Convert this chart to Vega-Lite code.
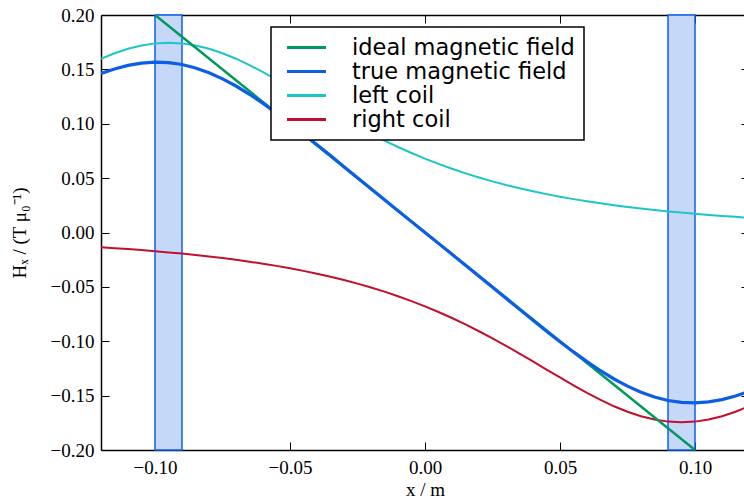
{
  "$schema": "https://vega.github.io/schema/vega-lite/v6.json",
  "width": 648,
  "height": 435,
  "autosize": {"type": "none"},
  "padding": {"left": 101, "top": 15, "right": 0, "bottom": 49},
  "config": {
    "view": {"stroke": null},
    "axis": {
      "grid": false,
      "domainColor": "black",
      "domainWidth": 1.5,
      "tickColor": "black",
      "tickWidth": 1,
      "tickSize": -8,
      "labelFont": "Liberation Serif",
      "labelFontSize": 19,
      "labelColor": "black",
      "titleFont": "Liberation Serif",
      "titleFontSize": 19,
      "titleFontWeight": "normal",
      "titleColor": "black"
    },
    "legend": {
      "orient": "none",
      "legendX": 170,
      "legendY": 12,
      "strokeColor": "black",
      "strokeWidth": 1.5,
      "fillColor": "white",
      "padding": 9,
      "symbolType": "M-2,0H2",
      "symbolSize": 380,
      "symbolStrokeWidth": 3,
      "symbolOffset": 15,
      "labelFont": "DejaVu Sans",
      "labelFontSize": 22.5,
      "labelColor": "black",
      "labelOffset": 34,
      "labelLimit": 400,
      "rowPadding": 1
    }
  },
  "datasets": {
    "bands": [{"x0": -0.1, "x1": -0.09}, {"x0": 0.09, "x1": 0.1}],
    "curves": [
      {"series": "right coil", "x": -0.120, "H": -0.0136},
      {"series": "right coil", "x": -0.115, "H": -0.0144},
      {"series": "right coil", "x": -0.110, "H": -0.0152},
      {"series": "right coil", "x": -0.105, "H": -0.0162},
      {"series": "right coil", "x": -0.100, "H": -0.0172},
      {"series": "right coil", "x": -0.095, "H": -0.0183},
      {"series": "right coil", "x": -0.090, "H": -0.0194},
      {"series": "right coil", "x": -0.085, "H": -0.0207},
      {"series": "right coil", "x": -0.080, "H": -0.0220},
      {"series": "right coil", "x": -0.075, "H": -0.0235},
      {"series": "right coil", "x": -0.070, "H": -0.0251},
      {"series": "right coil", "x": -0.065, "H": -0.0268},
      {"series": "right coil", "x": -0.060, "H": -0.0287},
      {"series": "right coil", "x": -0.055, "H": -0.0307},
      {"series": "right coil", "x": -0.050, "H": -0.0329},
      {"series": "right coil", "x": -0.045, "H": -0.0353},
      {"series": "right coil", "x": -0.040, "H": -0.0379},
      {"series": "right coil", "x": -0.035, "H": -0.0407},
      {"series": "right coil", "x": -0.030, "H": -0.0437},
      {"series": "right coil", "x": -0.025, "H": -0.0470},
      {"series": "right coil", "x": -0.020, "H": -0.0506},
      {"series": "right coil", "x": -0.015, "H": -0.0544},
      {"series": "right coil", "x": -0.010, "H": -0.0586},
      {"series": "right coil", "x": -0.005, "H": -0.0631},
      {"series": "right coil", "x": 0.000, "H": -0.0679},
      {"series": "right coil", "x": 0.005, "H": -0.0731},
      {"series": "right coil", "x": 0.010, "H": -0.0786},
      {"series": "right coil", "x": 0.015, "H": -0.0845},
      {"series": "right coil", "x": 0.020, "H": -0.0908},
      {"series": "right coil", "x": 0.025, "H": -0.0974},
      {"series": "right coil", "x": 0.030, "H": -0.1042},
      {"series": "right coil", "x": 0.035, "H": -0.1113},
      {"series": "right coil", "x": 0.040, "H": -0.1186},
      {"series": "right coil", "x": 0.045, "H": -0.1260},
      {"series": "right coil", "x": 0.050, "H": -0.1333},
      {"series": "right coil", "x": 0.055, "H": -0.1405},
      {"series": "right coil", "x": 0.060, "H": -0.1474},
      {"series": "right coil", "x": 0.065, "H": -0.1539},
      {"series": "right coil", "x": 0.070, "H": -0.1598},
      {"series": "right coil", "x": 0.075, "H": -0.1648},
      {"series": "right coil", "x": 0.080, "H": -0.1689},
      {"series": "right coil", "x": 0.085, "H": -0.1720},
      {"series": "right coil", "x": 0.090, "H": -0.1739},
      {"series": "right coil", "x": 0.095, "H": -0.1745},
      {"series": "right coil", "x": 0.100, "H": -0.1739},
      {"series": "right coil", "x": 0.105, "H": -0.1720},
      {"series": "right coil", "x": 0.110, "H": -0.1689},
      {"series": "right coil", "x": 0.115, "H": -0.1648},
      {"series": "right coil", "x": 0.120, "H": -0.1598},
      {"series": "left coil", "x": -0.120, "H": 0.1598},
      {"series": "left coil", "x": -0.115, "H": 0.1648},
      {"series": "left coil", "x": -0.110, "H": 0.1689},
      {"series": "left coil", "x": -0.105, "H": 0.1720},
      {"series": "left coil", "x": -0.100, "H": 0.1739},
      {"series": "left coil", "x": -0.095, "H": 0.1745},
      {"series": "left coil", "x": -0.090, "H": 0.1739},
      {"series": "left coil", "x": -0.085, "H": 0.1720},
      {"series": "left coil", "x": -0.080, "H": 0.1689},
      {"series": "left coil", "x": -0.075, "H": 0.1648},
      {"series": "left coil", "x": -0.070, "H": 0.1598},
      {"series": "left coil", "x": -0.065, "H": 0.1539},
      {"series": "left coil", "x": -0.060, "H": 0.1474},
      {"series": "left coil", "x": -0.055, "H": 0.1405},
      {"series": "left coil", "x": -0.050, "H": 0.1333},
      {"series": "left coil", "x": -0.045, "H": 0.1260},
      {"series": "left coil", "x": -0.040, "H": 0.1186},
      {"series": "left coil", "x": -0.035, "H": 0.1113},
      {"series": "left coil", "x": -0.030, "H": 0.1042},
      {"series": "left coil", "x": -0.025, "H": 0.0974},
      {"series": "left coil", "x": -0.020, "H": 0.0908},
      {"series": "left coil", "x": -0.015, "H": 0.0845},
      {"series": "left coil", "x": -0.010, "H": 0.0786},
      {"series": "left coil", "x": -0.005, "H": 0.0731},
      {"series": "left coil", "x": 0.000, "H": 0.0679},
      {"series": "left coil", "x": 0.005, "H": 0.0631},
      {"series": "left coil", "x": 0.010, "H": 0.0586},
      {"series": "left coil", "x": 0.015, "H": 0.0544},
      {"series": "left coil", "x": 0.020, "H": 0.0506},
      {"series": "left coil", "x": 0.025, "H": 0.0470},
      {"series": "left coil", "x": 0.030, "H": 0.0437},
      {"series": "left coil", "x": 0.035, "H": 0.0407},
      {"series": "left coil", "x": 0.040, "H": 0.0379},
      {"series": "left coil", "x": 0.045, "H": 0.0353},
      {"series": "left coil", "x": 0.050, "H": 0.0329},
      {"series": "left coil", "x": 0.055, "H": 0.0307},
      {"series": "left coil", "x": 0.060, "H": 0.0287},
      {"series": "left coil", "x": 0.065, "H": 0.0268},
      {"series": "left coil", "x": 0.070, "H": 0.0251},
      {"series": "left coil", "x": 0.075, "H": 0.0235},
      {"series": "left coil", "x": 0.080, "H": 0.0220},
      {"series": "left coil", "x": 0.085, "H": 0.0207},
      {"series": "left coil", "x": 0.090, "H": 0.0194},
      {"series": "left coil", "x": 0.095, "H": 0.0183},
      {"series": "left coil", "x": 0.100, "H": 0.0172},
      {"series": "left coil", "x": 0.105, "H": 0.0162},
      {"series": "left coil", "x": 0.110, "H": 0.0152},
      {"series": "left coil", "x": 0.115, "H": 0.0144},
      {"series": "left coil", "x": 0.120, "H": 0.0136},
      {"series": "ideal magnetic field", "x": -0.100, "H": 0.2},
      {"series": "ideal magnetic field", "x": 0.000, "H": 0.0},
      {"series": "ideal magnetic field", "x": 0.100, "H": -0.2},
      {"series": "true magnetic field", "x": -0.120, "H": 0.1462},
      {"series": "true magnetic field", "x": -0.115, "H": 0.1504},
      {"series": "true magnetic field", "x": -0.110, "H": 0.1537},
      {"series": "true magnetic field", "x": -0.105, "H": 0.1558},
      {"series": "true magnetic field", "x": -0.100, "H": 0.1567},
      {"series": "true magnetic field", "x": -0.095, "H": 0.1562},
      {"series": "true magnetic field", "x": -0.090, "H": 0.1545},
      {"series": "true magnetic field", "x": -0.085, "H": 0.1513},
      {"series": "true magnetic field", "x": -0.080, "H": 0.1469},
      {"series": "true magnetic field", "x": -0.075, "H": 0.1413},
      {"series": "true magnetic field", "x": -0.070, "H": 0.1347},
      {"series": "true magnetic field", "x": -0.065, "H": 0.1271},
      {"series": "true magnetic field", "x": -0.060, "H": 0.1187},
      {"series": "true magnetic field", "x": -0.055, "H": 0.1098},
      {"series": "true magnetic field", "x": -0.050, "H": 0.1004},
      {"series": "true magnetic field", "x": -0.045, "H": 0.0907},
      {"series": "true magnetic field", "x": -0.040, "H": 0.0807},
      {"series": "true magnetic field", "x": -0.035, "H": 0.0707},
      {"series": "true magnetic field", "x": -0.030, "H": 0.0605},
      {"series": "true magnetic field", "x": -0.025, "H": 0.0504},
      {"series": "true magnetic field", "x": -0.020, "H": 0.0402},
      {"series": "true magnetic field", "x": -0.015, "H": 0.0301},
      {"series": "true magnetic field", "x": -0.010, "H": 0.0201},
      {"series": "true magnetic field", "x": -0.005, "H": 0.0100},
      {"series": "true magnetic field", "x": 0.000, "H": 0.0},
      {"series": "true magnetic field", "x": 0.005, "H": -0.0100},
      {"series": "true magnetic field", "x": 0.010, "H": -0.0201},
      {"series": "true magnetic field", "x": 0.015, "H": -0.0301},
      {"series": "true magnetic field", "x": 0.020, "H": -0.0402},
      {"series": "true magnetic field", "x": 0.025, "H": -0.0504},
      {"series": "true magnetic field", "x": 0.030, "H": -0.0605},
      {"series": "true magnetic field", "x": 0.035, "H": -0.0707},
      {"series": "true magnetic field", "x": 0.040, "H": -0.0807},
      {"series": "true magnetic field", "x": 0.045, "H": -0.0907},
      {"series": "true magnetic field", "x": 0.050, "H": -0.1004},
      {"series": "true magnetic field", "x": 0.055, "H": -0.1098},
      {"series": "true magnetic field", "x": 0.060, "H": -0.1187},
      {"series": "true magnetic field", "x": 0.065, "H": -0.1271},
      {"series": "true magnetic field", "x": 0.070, "H": -0.1347},
      {"series": "true magnetic field", "x": 0.075, "H": -0.1413},
      {"series": "true magnetic field", "x": 0.080, "H": -0.1469},
      {"series": "true magnetic field", "x": 0.085, "H": -0.1513},
      {"series": "true magnetic field", "x": 0.090, "H": -0.1545},
      {"series": "true magnetic field", "x": 0.095, "H": -0.1562},
      {"series": "true magnetic field", "x": 0.100, "H": -0.1567},
      {"series": "true magnetic field", "x": 0.105, "H": -0.1558},
      {"series": "true magnetic field", "x": 0.110, "H": -0.1537},
      {"series": "true magnetic field", "x": 0.115, "H": -0.1504},
      {"series": "true magnetic field", "x": 0.120, "H": -0.1462}
    ]
  },
  "layer": [
    {
      "data": {"name": "bands"},
      "mark": {"type": "rect", "fill": "#c6d8f8", "stroke": "#0f5cf5", "strokeWidth": 1.5},
      "encoding": {
        "x": {"field": "x0", "type": "quantitative", "scale": {"domain": [-0.12, 0.12], "nice": false, "zero": false}, "axis": null},
        "x2": {"field": "x1"}
      }
    },
    {
      "data": {"name": "curves"},
      "transform": [{"filter": "datum.series === 'right coil'"}],
      "mark": {"type": "line", "clip": true, "strokeWidth": 2},
      "encoding": {
        "x": {
          "field": "x", "type": "quantitative",
          "axis": {"orient": "bottom", "values": [-0.1, -0.05, 0, 0.05, 0.1], "format": ".2f", "labelPadding": 16, "title": "x / m", "titlePadding": 3}
        },
        "y": {
          "field": "H", "type": "quantitative",
          "scale": {"domain": [-0.2, 0.2], "nice": false, "zero": false},
          "axis": {"orient": "left", "values": [-0.2, -0.15, -0.1, -0.05, 0, 0.05, 0.1, 0.15, 0.2], "format": ".2f", "labelPadding": 15, "title": "Hₓ / (T μ₀⁻¹)", "titlePadding": 21}
        },
        "color": {
          "field": "series", "type": "nominal",
          "scale": {"domain": ["ideal magnetic field", "true magnetic field", "left coil", "right coil"], "range": ["#009a5c", "#0b5ee6", "#1cc6c6", "#c1102c"]},
          "legend": {"title": null}
        }
      }
    },
    {
      "data": {"name": "curves"},
      "transform": [{"filter": "datum.series === 'left coil'"}],
      "mark": {"type": "line", "clip": true, "strokeWidth": 2},
      "encoding": {
        "x": {"field": "x", "type": "quantitative", "axis": null},
        "y": {"field": "H", "type": "quantitative", "axis": null},
        "color": {"field": "series", "type": "nominal", "legend": {"title": null}}
      }
    },
    {
      "data": {"name": "curves"},
      "transform": [{"filter": "datum.series === 'ideal magnetic field'"}],
      "mark": {"type": "line", "clip": true, "strokeWidth": 2.5},
      "encoding": {
        "x": {"field": "x", "type": "quantitative", "axis": null},
        "y": {"field": "H", "type": "quantitative", "axis": null},
        "color": {"field": "series", "type": "nominal", "legend": {"title": null}}
      }
    },
    {
      "data": {"name": "curves"},
      "transform": [{"filter": "datum.series === 'true magnetic field'"}],
      "mark": {"type": "line", "clip": true, "strokeWidth": 3.2},
      "encoding": {
        "x": {"field": "x", "type": "quantitative", "axis": null},
        "y": {"field": "H", "type": "quantitative", "axis": null},
        "color": {"field": "series", "type": "nominal", "legend": {"title": null}}
      }
    },
    {
      "data": {"name": "curves"},
      "mark": {"type": "point", "opacity": 0},
      "encoding": {
        "x": {"field": "x", "type": "quantitative", "axis": {"orient": "top", "values": [-0.1, -0.05, 0, 0.05, 0.1], "labels": false, "title": null}},
        "y": {"field": "H", "type": "quantitative", "axis": {"orient": "right", "values": [-0.2, -0.15, -0.1, -0.05, 0, 0.05, 0.1, 0.15, 0.2], "labels": false, "title": null}}
      }
    }
  ]
}
